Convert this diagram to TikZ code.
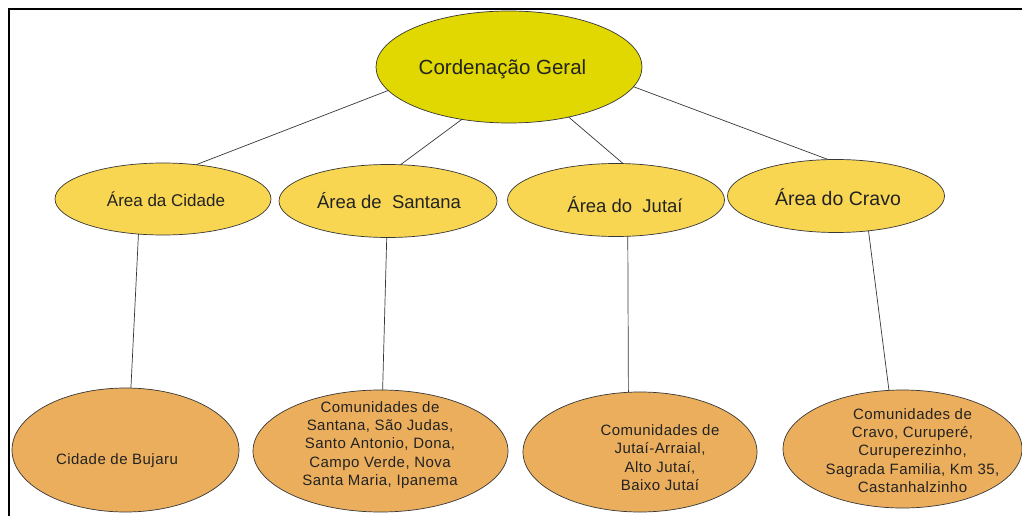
\documentclass[tikz,border=0pt]{standalone}
\usepackage{fontspec}
\setmainfont{Liberation Sans}
\usetikzlibrary{shapes.geometric}
\definecolor{topfill}{RGB}{224,216,0}
\definecolor{midfill}{RGB}{248,214,82}
\definecolor{lowfill}{RGB}{235,174,92}
\definecolor{edge}{RGB}{55,55,55}
\definecolor{ink}{RGB}{35,35,35}
\begin{document}
\begin{tikzpicture}[x=1pt,y=-1pt,
  oval/.style={ellipse, draw=edge, line width=0.7pt, inner sep=0pt, outer sep=0pt},
  topoval/.style={oval, fill=topfill},
  midoval/.style={oval, fill=midfill},
  lowoval/.style={oval, fill=lowfill},
  txt/.style={text=ink, inner sep=0pt, align=center},
  lowtxt/.style={txt, font=\fontsize{15}{18.2}\selectfont\addfontfeature{LetterSpace=3}},
  link/.style={draw=edge, line width=0.7pt}]
\useasboundingbox (0,0) rectangle (1022,516);
\fill[white] (0,0) rectangle (1022,516);
\draw[line width=2pt] (1022,9.5) -- (8.5,9.5) -- (8.5,516);

% ellipses
\node[topoval, minimum width=266pt, minimum height=112pt] (top) at (509,67) {};
\node[midoval, minimum width=216pt, minimum height=72pt] (a1) at (163,199) {};
\node[midoval, minimum width=218pt, minimum height=73pt] (a2) at (388,201) {};
\node[midoval, minimum width=217pt, minimum height=73pt] (a3) at (616,200) {};
\node[midoval, minimum width=217pt, minimum height=73pt] (a4) at (836,196) {};
\node[lowoval, minimum width=227pt, minimum height=124pt] (b1) at (125.5,450) {};
\node[lowoval, minimum width=255pt, minimum height=122pt] (b2) at (380.5,451) {};
\node[lowoval, minimum width=234pt, minimum height=120pt] (b3) at (640,452) {};
\node[lowoval, minimum width=239pt, minimum height=118pt] (b4) at (902.5,449) {};

% connectors
\draw[link] (top.191.7) -- (a1.46.6);
\draw[link] (top.228.4) -- (a2.71.6);
\draw[link] (top.320.2) -- (a3.79);
\draw[link] (top.351) -- (a4.102.5);
\draw[link] (a1.235.2) -- (b1.85.8);
\draw[link] (a2.268) -- (b2.88.6);
\draw[link] (a3.288.5) -- (b3.101);
\draw[link] (a4.313) -- (b4.103.8);

% texts
\node[txt, anchor=base, font=\fontsize{20.5}{24}\selectfont] (ttop) at (502.5,75) {Cordenação Geral};
\node[txt, anchor=base, font=\fontsize{17}{20}\selectfont] (ta1) at (166,206.5) {Área da Cidade};
\node[txt, anchor=base, font=\fontsize{18.5}{22}\selectfont] (ta2) at (389,208) {Área de\ \ Santana};
\node[txt, anchor=base, font=\fontsize{18.5}{22}\selectfont] (ta3) at (625,212.5) {Área do\ \ Jutaí};
\node[txt, anchor=base, font=\fontsize{19.5}{23}\selectfont] (ta4) at (838,205) {Área do Cravo};
\node[lowtxt, anchor=base] (tb1) at (117,464) {Cidade de Bujaru};
\node[lowtxt] (tb2) at (380,445) {Comunidades de\\Santana, São Judas,\\Santo Antonio, Dona,\\Campo Verde, Nova\\Santa Maria, Ipanema};
\node[lowtxt] (tb3) at (660,457.6) {Comunidades de\\Jutaí-Arraial,\\Alto Jutaí,\\Baixo Jutaí};
\node[lowtxt] (tb4) at (912.5,450.6) {Comunidades de\\Cravo, Curuperé,\\Curuperezinho,\\Sagrada Familia, Km 35,\\Castanhalzinho};
\end{tikzpicture}
\end{document}
